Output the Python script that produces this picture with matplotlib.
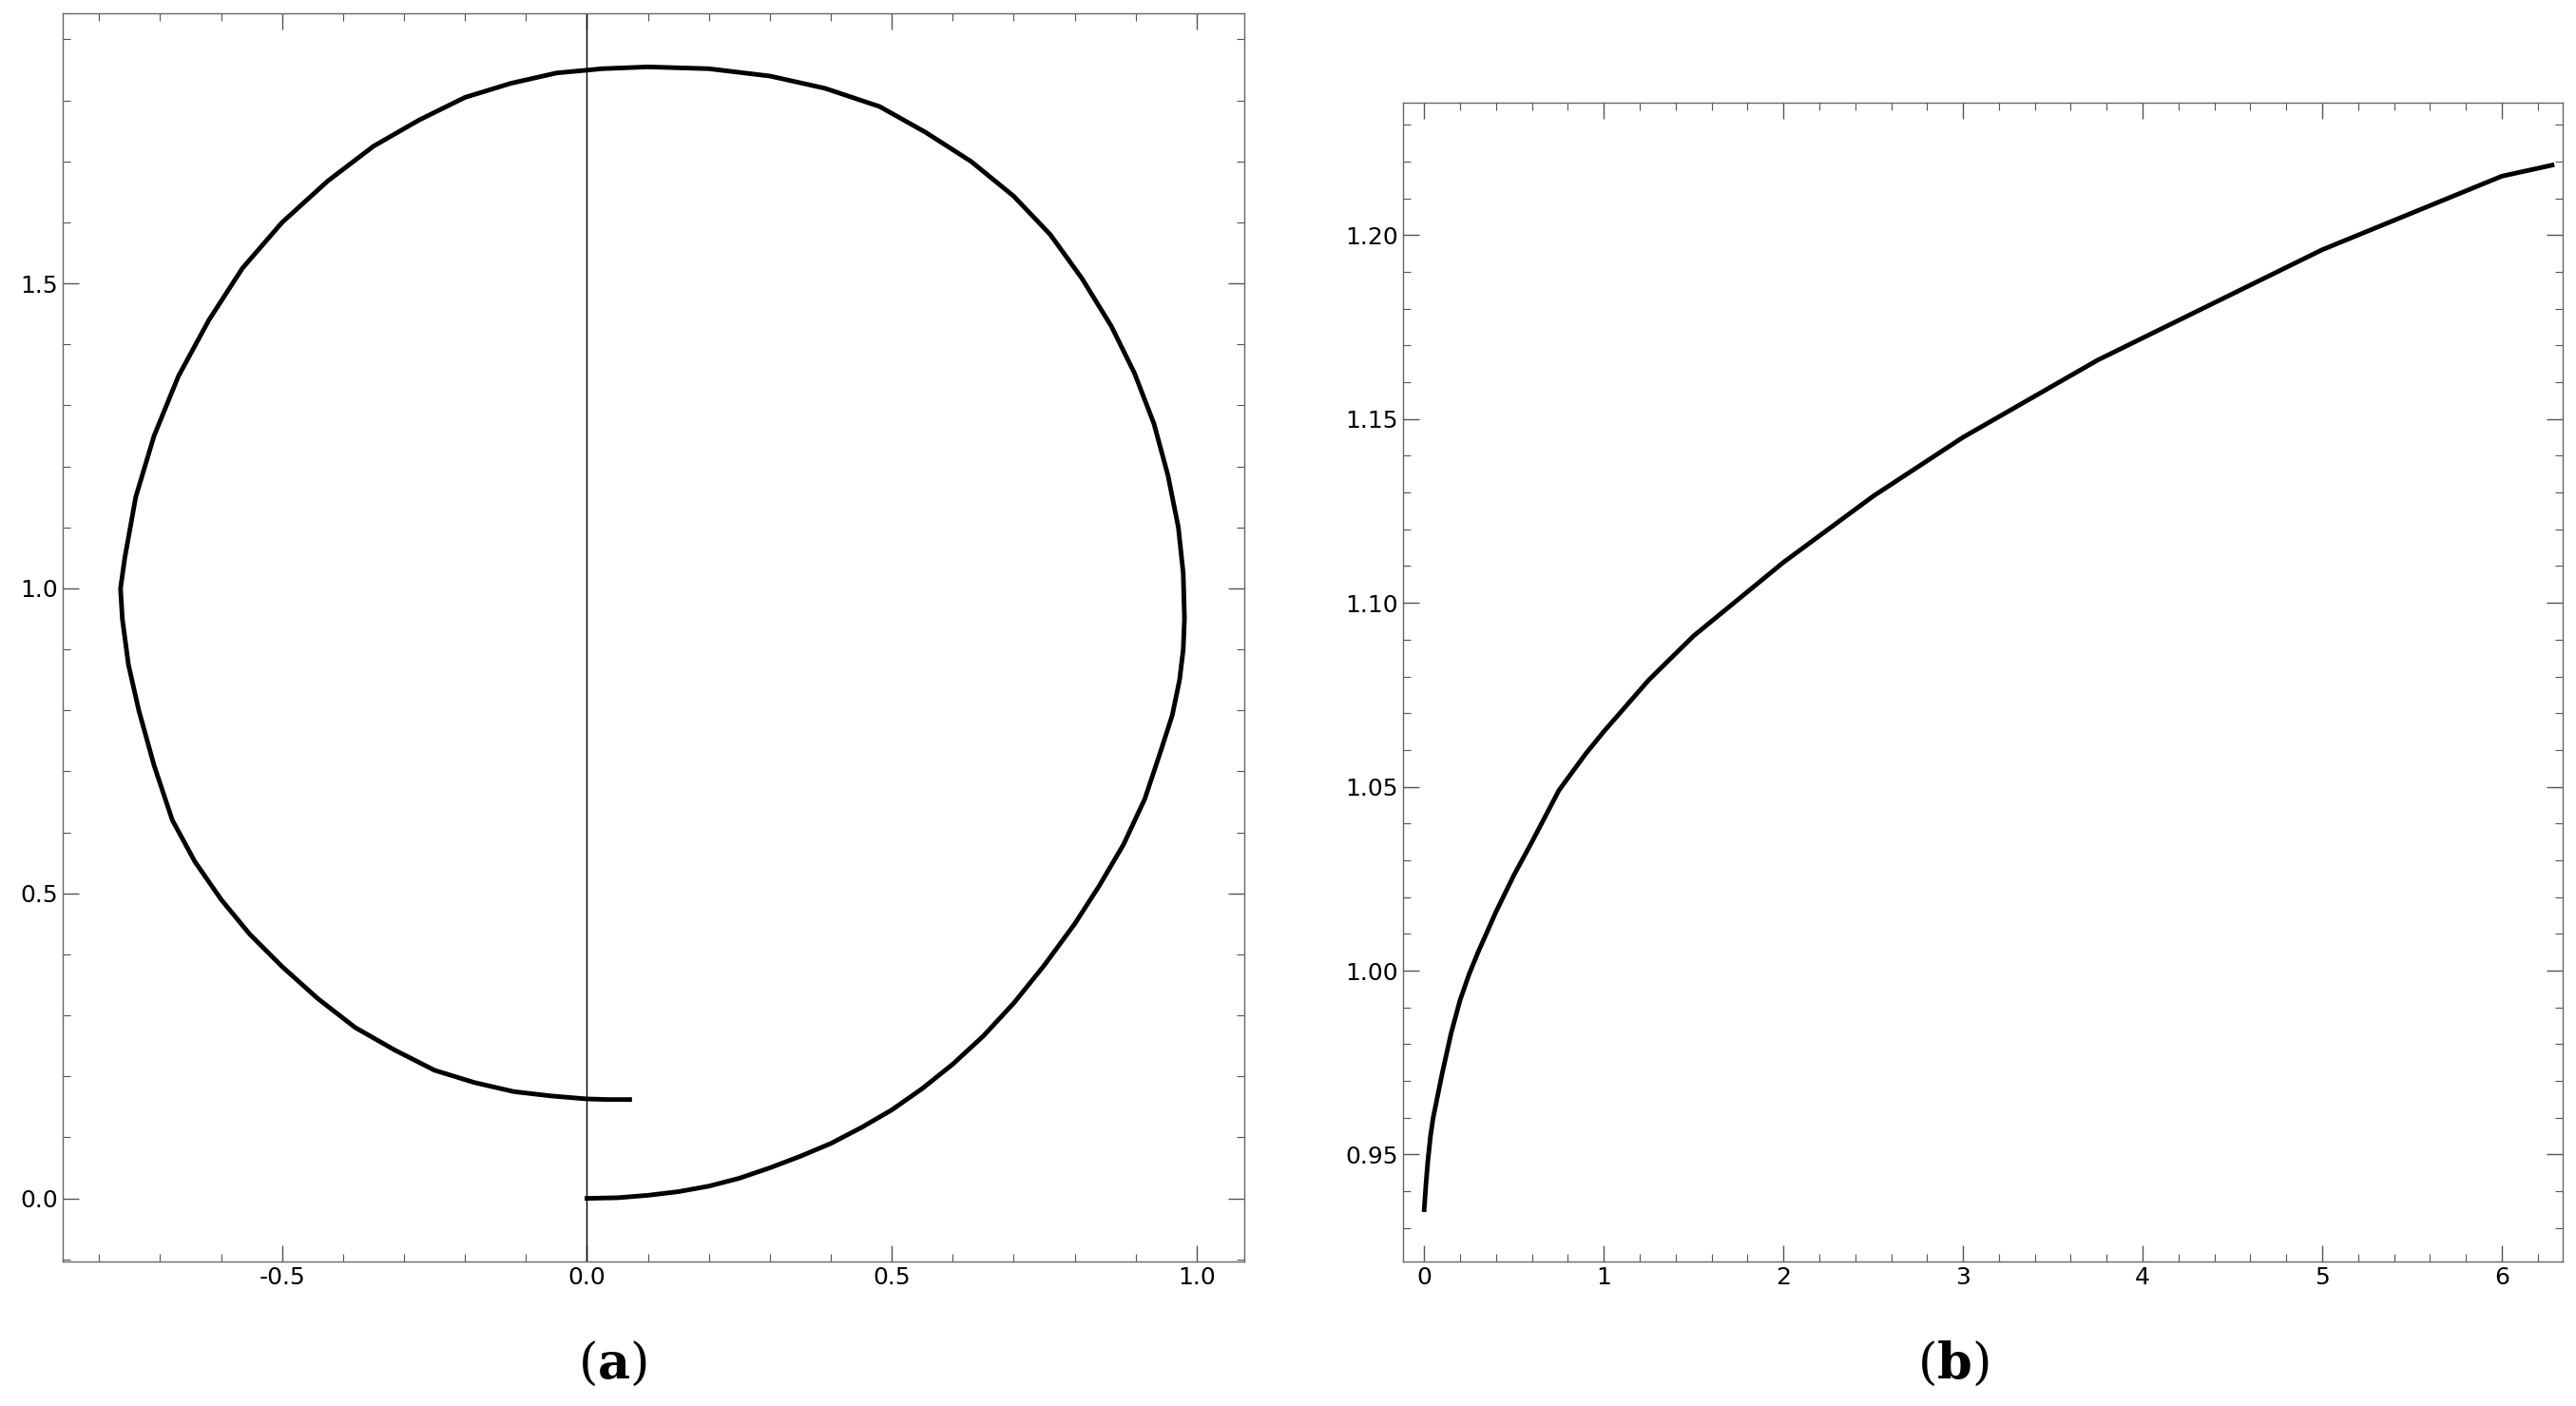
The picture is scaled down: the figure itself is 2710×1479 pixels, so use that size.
import matplotlib
matplotlib.use("Agg")
import matplotlib.pyplot as plt
from matplotlib.ticker import MultipleLocator, FormatStrFormatter

# Panel (a): curve points
ax_x = [0.00, 0.05, 0.10, 0.15, 0.20, 0.25, 0.30, 0.35, 0.40, 0.45, 0.50, 0.55, 0.60, 0.65, 0.70, 0.75,
        0.80, 0.84, 0.88, 0.915, 0.94, 0.96, 0.972, 0.978, 0.980, 0.978, 0.970, 0.953, 0.930, 0.898,
        0.860, 0.812, 0.760, 0.700, 0.630, 0.555, 0.480, 0.390, 0.300, 0.200, 0.100, 0.025, -0.050,
        -0.125, -0.200, -0.275, -0.350, -0.425, -0.500, -0.565, -0.620, -0.670, -0.710, -0.740, -0.758,
        -0.765, -0.762, -0.752, -0.735, -0.710, -0.680, -0.643, -0.600, -0.553, -0.500, -0.442, -0.380,
        -0.315, -0.250, -0.185, -0.120, -0.060, 0.000, 0.035, 0.070]
ax_y = [0.000, 0.001, 0.005, 0.011, 0.020, 0.033, 0.050, 0.069, 0.090, 0.116, 0.145, 0.180, 0.220, 0.266,
        0.320, 0.382, 0.450, 0.512, 0.580, 0.655, 0.730, 0.792, 0.850, 0.900, 0.950, 1.025, 1.100, 1.185,
        1.270, 1.353, 1.430, 1.508, 1.580, 1.643, 1.700, 1.748, 1.790, 1.820, 1.840, 1.852, 1.855, 1.852,
        1.845, 1.828, 1.805, 1.768, 1.725, 1.668, 1.600, 1.525, 1.440, 1.348, 1.250, 1.150, 1.050, 1.000,
        0.950, 0.875, 0.800, 0.710, 0.620, 0.552, 0.490, 0.433, 0.380, 0.328, 0.280, 0.243, 0.210, 0.190,
        0.175, 0.168, 0.163, 0.162, 0.162]

# Panel (b)
b_x = [0.0, 0.01, 0.02, 0.035, 0.05, 0.075, 0.1, 0.15, 0.2, 0.25, 0.3, 0.4, 0.5, 0.6, 0.75, 0.9, 1.0,
       1.25, 1.5, 1.75, 2.0, 2.25, 2.5, 2.75, 3.0, 3.25, 3.5, 3.75, 4.0, 4.25, 4.5, 4.75, 5.0, 5.25,
       5.5, 5.75, 6.0, 6.28]
b_y = [0.935, 0.942, 0.948, 0.955, 0.960, 0.966, 0.972, 0.983, 0.992, 0.999, 1.005, 1.016, 1.026, 1.035,
       1.049, 1.059, 1.065, 1.079, 1.091, 1.101, 1.111, 1.120, 1.129, 1.137, 1.145, 1.152, 1.159, 1.166,
       1.172, 1.178, 1.184, 1.190, 1.196, 1.201, 1.206, 1.211, 1.216, 1.219]

fig = plt.figure(figsize=(27.10, 14.79), dpi=100)
ax1 = fig.add_axes([0.0243, 0.103, 0.4587, 0.8876])
ax2 = fig.add_axes([0.5445, 0.103, 0.4504, 0.824])

for ax in (ax1, ax2):
    ax.tick_params(which='both', direction='in', top=True, right=True, labelsize=18, color='#555555')
    ax.tick_params(which='major', length=12, width=1)
    ax.tick_params(which='minor', length=6, width=0.8)
    for s in ax.spines.values():
        s.set_color('#666666'); s.set_linewidth(1)

ax1.plot(ax_x, ax_y, color='black', lw=3.5, solid_joinstyle='round')
ax1.axvline(0, color='black', lw=1)
ax1.set_xlim(-0.86, 1.078); ax1.set_ylim(-0.103, 1.943)
ax1.xaxis.set_major_locator(MultipleLocator(0.5)); ax1.xaxis.set_minor_locator(MultipleLocator(0.1))
ax1.yaxis.set_major_locator(MultipleLocator(0.5)); ax1.yaxis.set_minor_locator(MultipleLocator(0.1))
ax1.xaxis.set_major_formatter(FormatStrFormatter('%.1f')); ax1.yaxis.set_major_formatter(FormatStrFormatter('%.1f'))

ax2.plot(b_x, b_y, color='black', lw=3.5, solid_joinstyle='round')
ax2.set_xlim(-0.12, 6.34); ax2.set_ylim(0.921, 1.236)
ax2.xaxis.set_major_locator(MultipleLocator(1)); ax2.xaxis.set_minor_locator(MultipleLocator(0.2))
ax2.yaxis.set_major_locator(MultipleLocator(0.05)); ax2.yaxis.set_minor_locator(MultipleLocator(0.01))
ax2.yaxis.set_major_formatter(FormatStrFormatter('%.2f'))

plt.rcParams['mathtext.fontset'] = 'dejavuserif'
fig.text(372/1563, 1-828/853, r'($\mathbf{a}$)', fontsize=38, family='DejaVu Serif', ha='center', va='center')
fig.text(1185/1563, 1-828/853, r'($\mathbf{b}$)', fontsize=38, family='DejaVu Serif', ha='center', va='center')
fig.savefig('out.png', dpi=100)
